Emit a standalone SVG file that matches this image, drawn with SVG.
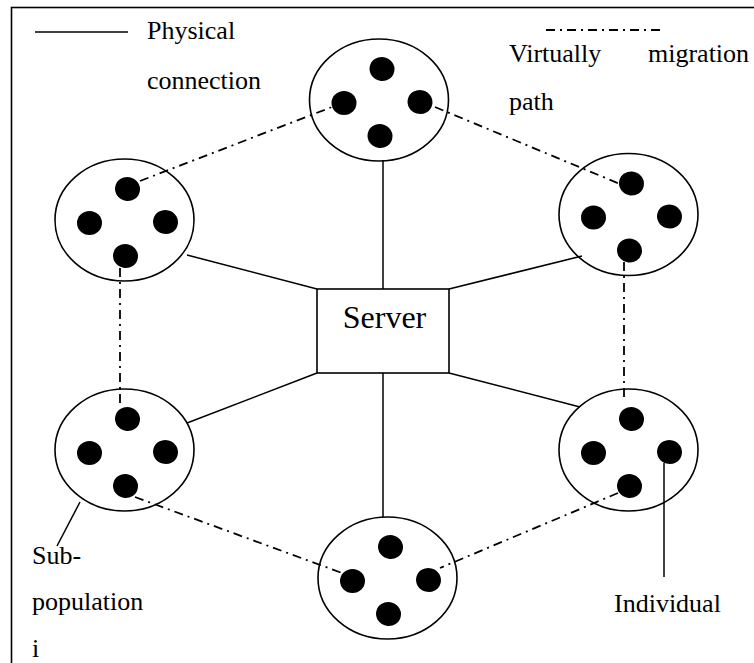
<svg xmlns="http://www.w3.org/2000/svg" width="754" height="663" viewBox="0 0 754 663">
  <style>
    .txt { font-size: 26px; fill: #000; }
    .srv { font-size: 32px; fill: #000; }
    .pop { fill: none; stroke: #000; stroke-width: 1.6; }
    .ind { fill: #000; }
    .phys { stroke: #000; stroke-width: 1.5; fill: none; }
    .virt { stroke: #000; stroke-width: 1.8; fill: none; stroke-dasharray: 9 5 2 5; }
  </style>
  <defs>
    <g id="subpop">
      <ellipse class="pop" cx="0" cy="0" rx="69.5" ry="61"/>
      <ellipse class="ind" cx="3" cy="-31" rx="12.5" ry="12" transform="rotate(10 3 -31)"/>
      <ellipse class="ind" cx="-35" cy="3" rx="12.5" ry="12"/>
      <ellipse class="ind" cx="41" cy="2" rx="12.5" ry="12" transform="rotate(15 41 2)"/>
      <ellipse class="ind" cx="1" cy="36" rx="12.5" ry="12" transform="rotate(10 1 36)"/>
    </g>
  </defs>

  <rect x="11.5" y="7.5" width="800" height="720" fill="#fff" stroke="#000" stroke-width="1.6"/>

  <g font-family="Liberation Serif, DejaVu Serif, serif">
  <!-- legend -->
  <g id="legend">
    <line class="phys" x1="35" y1="32" x2="128" y2="32"/>
    <text class="txt" x="147" y="39">Physical</text>
    <text class="txt" x="147" y="89">connection</text>
    <line class="virt" x1="546" y1="30" x2="665" y2="30" stroke-dasharray="6 4 2 4" stroke-width="1.5"/>
    <text class="txt" x="509" y="62">Virtually</text>
    <text class="txt" x="648" y="62">migration</text>
    <text class="txt" x="509" y="110">path</text>
  </g>

  <!-- connectors -->
  <g id="connectors">
    <line class="phys" x1="383" y1="160" x2="383" y2="289"/>
    <line class="phys" x1="383" y1="373" x2="383" y2="517"/>
    <line class="phys" x1="187" y1="255" x2="317" y2="289"/>
    <line class="phys" x1="449" y1="289" x2="582" y2="256"/>
    <line class="phys" x1="317" y1="373" x2="187" y2="423"/>
    <line class="phys" x1="449" y1="373" x2="580" y2="407"/>

    <line class="virt" x1="140" y1="181" x2="332" y2="107"/>
    <line class="virt" x1="435" y1="107" x2="620" y2="184"/>
    <line class="virt" x1="120" y1="268" x2="120" y2="404"/>
    <line class="virt" x1="624" y1="262" x2="624" y2="402"/>
    <line class="virt" x1="135" y1="497" x2="342" y2="573"/>
    <line class="virt" x1="618" y1="493" x2="440" y2="568"/>

    <line class="phys" x1="80" y1="502" x2="57" y2="546"/>
    <line class="phys" x1="664" y1="463" x2="664" y2="577"/>
  </g>

  <!-- server -->
  <g id="server">
    <rect x="317" y="289" width="132" height="84" fill="#fff" stroke="#000" stroke-width="1.6"/>
    <text class="srv" x="384.5" y="328" text-anchor="middle">Server</text>
  </g>

  <!-- sub-populations -->
  <g id="pop-top"><use href="#subpop" x="379" y="100"/></g>
  <g id="pop-top-left"><use href="#subpop" x="124.5" y="220"/></g>
  <g id="pop-top-right"><use href="#subpop" x="628.5" y="214.5"/></g>
  <g id="pop-bottom-left"><use href="#subpop" x="124.5" y="450"/></g>
  <g id="pop-bottom-right"><use href="#subpop" x="628.5" y="450"/></g>
  <g id="pop-bottom"><use href="#subpop" x="387.5" y="578"/></g>

  <!-- annotations -->
  <g id="labels">
    <text class="txt" x="32" y="564">Sub-</text>
    <text class="txt" x="32" y="610">population</text>
    <text class="txt" x="32" y="657">i</text>
    <text class="txt" x="614" y="612">Individual</text>
  </g>
  </g>
</svg>
